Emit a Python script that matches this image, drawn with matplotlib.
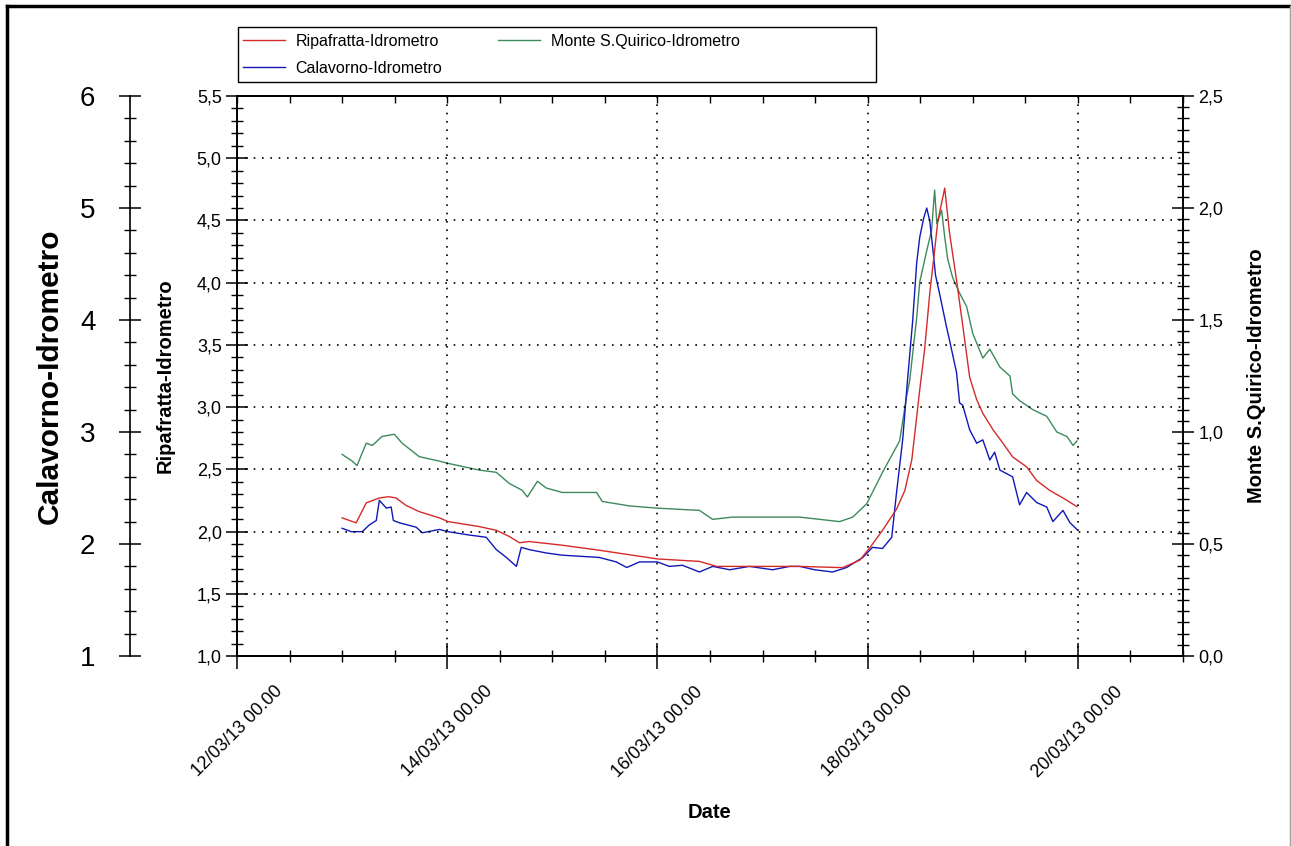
import numpy as np
import pandas as pd
import matplotlib as mpl
import matplotlib.pyplot as plt
import matplotlib.dates as mdates
from matplotlib.ticker import MultipleLocator, FixedLocator, FuncFormatter
from matplotlib.lines import Line2D
from matplotlib.patches import Rectangle

mpl.rcParams['font.family'] = ['Liberation Sans', 'DejaVu Sans']

# hours since 13/03/13 00.00
ripa_hours = [0, 3.2, 5.5, 8.5, 10.7, 12.3, 14.6, 17.6, 22.2, 24.2, 31.3, 35.2, 38.2,
              40.5, 42.7, 50.3, 58.7, 66.3, 72.0, 81.6, 85.5, 96.9, 104.5, 114.3,
              118.2, 120.5, 123.4, 126.6, 128.5, 130.1, 131.9, 133.0, 134.2, 135.3,
              136.0, 137.6, 138.7, 140.3, 141.7, 143.3, 144.9, 146.3, 148.6, 150.9,
              153.1, 156.3, 158.6, 161.6, 164.6, 167.8]
ripa_level = [2.11, 2.07, 2.23, 2.27, 2.28, 2.27, 2.21, 2.16, 2.11, 2.08, 2.04, 2.01, 1.96,
              1.91, 1.92, 1.89, 1.85, 1.81, 1.78, 1.76, 1.72, 1.72, 1.72, 1.71,
              1.77, 1.87, 2.01, 2.18, 2.33, 2.58, 3.14, 3.46, 3.92, 4.26,
              4.49, 4.76, 4.40, 4.02, 3.66, 3.24, 3.06, 2.95, 2.82, 2.71,
              2.60, 2.52, 2.41, 2.33, 2.27, 2.20]

cala_hours = [0, 2.1, 4.6, 6.2, 7.8, 8.5, 10.1, 11.2, 11.7, 13.0, 16.9, 18.3, 22.2, 24.2,
              29.0, 32.9, 35.2, 37.5, 39.8, 40.9, 42.7, 46.6, 50.3, 58.7, 62.6, 65.0,
              67.9, 72.0, 74.7, 77.7, 81.6, 84.6, 88.5, 93.0, 98.3, 102.2, 104.5, 107.9,
              112.0, 115.2, 118.9, 121.1, 123.4, 125.5, 126.6, 128.0, 129.1, 130.3,
              131.2, 131.9, 132.8, 133.5, 134.2, 134.9, 135.5, 136.4, 138.0, 138.7,
              140.3, 141.0, 141.7, 143.3, 144.9, 146.3, 147.9, 149.0, 150.2, 153.1,
              154.7, 156.3, 158.6, 160.9, 162.3, 164.6, 166.2, 167.8]
cala_level = [2.14, 2.11, 2.11, 2.17, 2.21, 2.39, 2.32, 2.33, 2.21, 2.19, 2.15, 2.10, 2.13, 2.11,
              2.08, 2.06, 1.95, 1.88, 1.80, 1.97, 1.95, 1.92, 1.90, 1.88, 1.84, 1.79,
              1.84, 1.84, 1.80, 1.81, 1.75, 1.80, 1.77, 1.80, 1.77, 1.80, 1.80, 1.77,
              1.75, 1.79, 1.88, 1.97, 1.96, 2.06, 2.46, 2.93, 3.46, 4.00,
              4.51, 4.74, 4.91, 5.00, 4.88, 4.63, 4.40, 4.24, 3.94, 3.82,
              3.53, 3.26, 3.24, 3.02, 2.90, 2.93, 2.75, 2.82, 2.66, 2.60,
              2.35, 2.46, 2.37, 2.33, 2.20, 2.30, 2.19, 2.13]

monte_hours = [0, 2.3, 3.4, 5.5, 6.9, 9.1, 11.9, 13.7, 17.6, 22.2, 24.2, 31.3, 35.2, 38.2,
               41.1, 42.3, 44.6, 46.6, 50.3, 58.1, 59.4, 65.6, 72.0, 81.6, 84.6, 89.1,
               104.5, 113.6, 116.6, 119.8, 123.4, 127.3, 128.9, 129.6, 131.2, 131.9,
               133.5, 134.6, 135.3, 135.8, 136.9, 137.6, 138.3, 139.4, 141.0, 142.6,
               144.0, 146.3, 147.9, 150.2, 152.5, 153.1, 154.7, 157.7, 160.9, 163.2,
               165.5, 166.9, 167.8]
monte_level = [0.90, 0.87, 0.85, 0.95, 0.94, 0.98, 0.99, 0.95, 0.89, 0.87, 0.86, 0.83, 0.82, 0.77,
               0.74, 0.71, 0.78, 0.75, 0.73, 0.73, 0.69, 0.67, 0.66, 0.65, 0.61, 0.62,
               0.62, 0.60, 0.62, 0.68, 0.82, 0.96, 1.16, 1.23, 1.51, 1.67,
               1.81, 1.90, 2.08, 1.93, 1.99, 1.87, 1.77, 1.69, 1.62, 1.56,
               1.44, 1.33, 1.37, 1.29, 1.25, 1.17, 1.14, 1.10, 1.07, 1.00,
               0.98, 0.94, 0.96]

start = pd.Timestamp('2013-03-13')
def to_time(hours):
    return start + pd.to_timedelta(np.array(hours), unit='h')

major_days = pd.date_range('2013-03-12', '2013-03-20', freq='2D')
minor_days = pd.date_range('2013-03-12', '2013-03-21', freq='12h')

red = '#d42a2a'
blue = '#1018b8'
green = '#3d8a5c'

fig = plt.figure(figsize=(12.91, 8.46), dpi=100)
ax = fig.add_axes([0.1836, 0.2246, 0.7327, 0.6619])
ax_m = ax.twinx()
ax_c = ax.twinx()

ax.set_zorder(3)
ax.patch.set_visible(False)
ax_c.set_zorder(2)
ax_m.set_zorder(1)

ax_m.plot(to_time(monte_hours), monte_level, color=green, lw=1.0)
ax_c.plot(to_time(cala_hours), cala_level, color=blue, lw=1.0)
ax.plot(to_time(ripa_hours), ripa_level, color=red, lw=1.0)

ax.set_xlim(pd.Timestamp('2013-03-12'), pd.Timestamp('2013-03-21'))
ax.set_ylim(1.0, 5.5)
ax_m.set_ylim(0.0, 2.5)
ax_c.set_ylim(1, 6)

comma = FuncFormatter(lambda v, p: f'{v:.1f}'.replace('.', ','))

# x axis
ax.xaxis.set_major_locator(FixedLocator(mdates.date2num(major_days)))
ax.xaxis.set_minor_locator(FixedLocator(mdates.date2num(minor_days)))
ax.xaxis.set_major_formatter(mdates.DateFormatter('%d/%m/%y %H.%M'))
ax.tick_params(axis='x', which='major', direction='inout', length=19, width=1.1,
               labelsize=13, pad=10)
ax.tick_params(axis='x', which='minor', direction='inout', length=9, width=1.0)
for lab in ax.get_xticklabels():
    lab.set_rotation(45)
    lab.set_ha('center')
    lab.set_va('top')
ax.set_xlabel('Date', fontsize=14.5, fontweight='bold')
ax.xaxis.set_label_coords(0.5, -0.262)

sec = ax.secondary_xaxis('top')
sec.xaxis.set_major_locator(FixedLocator(mdates.date2num(major_days)))
sec.xaxis.set_minor_locator(FixedLocator(mdates.date2num(minor_days)))
sec.tick_params(which='both', direction='in', length=5, width=1.0, labeltop=False)
sec.spines['top'].set_linewidth(1.2)

# Ripafratta axis
ax.yaxis.set_major_locator(MultipleLocator(0.5))
ax.yaxis.set_minor_locator(MultipleLocator(0.1))
ax.yaxis.set_major_formatter(comma)
ax.tick_params(axis='y', which='major', direction='inout', length=16, width=1.1,
               labelsize=13, pad=3)
ax.tick_params(axis='y', which='minor', direction='inout', length=8, width=1.0)
ax.set_ylabel('Ripafratta-Idrometro', fontsize=14.5, fontweight='bold')
ax.yaxis.set_label_coords(-0.0655, 0.5)
ax.grid(True, which='major', color='black', linestyle=(0, (1, 4)), linewidth=1.2)

# Monte S.Quirico axis
ax_m.yaxis.set_major_locator(MultipleLocator(0.5))
ax_m.yaxis.set_minor_locator(MultipleLocator(0.05))
ax_m.yaxis.set_major_formatter(comma)
ax_m.tick_params(axis='y', which='major', direction='inout', length=16, width=1.1,
                 labelsize=13, pad=3)
ax_m.tick_params(axis='y', which='minor', direction='inout', length=8, width=1.0)
ax_m.set_ylabel('Monte S.Quirico-Idrometro', fontsize=14.5, fontweight='bold')
ax_m.yaxis.set_label_coords(1.0677, 0.5)

# Calavorno axis, offset to the left
ax_c.spines['left'].set_position(('axes', -0.113))
ax_c.spines['left'].set_visible(True)
ax_c.spines['right'].set_visible(False)
ax_c.yaxis.set_ticks_position('left')
ax_c.yaxis.set_label_position('left')
ax_c.yaxis.set_major_locator(MultipleLocator(1))
ax_c.yaxis.set_minor_locator(MultipleLocator(0.2))
ax_c.yaxis.set_major_formatter(FuncFormatter(lambda v, p: f'{v:.0f}'))
ax_c.tick_params(axis='y', which='major', direction='inout', length=16, width=1.1,
                 labelsize=20, pad=17)
ax_c.tick_params(axis='y', which='minor', direction='inout', length=8, width=1.0)
ax_c.set_ylabel('Calavorno-Idrometro', fontsize=21.5, fontweight='bold')
ax_c.yaxis.set_label_coords(-0.183, 0.5)

for a in (ax, ax_m, ax_c):
    for s in a.spines.values():
        s.set_linewidth(1.2)

# legend with square frame
handles = [Line2D([], [], color=red, lw=1.0), Line2D([], [], color=blue, lw=1.0),
           Line2D([], [], color=green, lw=1.0)]
labels = ['Ripafratta-Idrometro', 'Calavorno-Idrometro', 'Monte S.Quirico-Idrometro']
fig.legend(handles, labels, loc='upper left', bbox_to_anchor=(243 / 1291, 1 - 34 / 846),
           ncol=2, frameon=False, fontsize=11.5, handlelength=2.6, handletextpad=0.7,
           columnspacing=3.5, labelspacing=0.75, borderpad=0, borderaxespad=0)
fig.add_artist(Rectangle((238 / 1291, 1 - 82 / 846), (876 - 238) / 1291, 55 / 846,
                         transform=fig.transFigure, fill=False, edgecolor='black', lw=1.0))

# outer border
fig.add_artist(Line2D([7 / 1291, 7 / 1291], [0, 1 - 6 / 846], transform=fig.transFigure,
                      color='black', lw=2.5))
fig.add_artist(Line2D([7 / 1291, 1], [1 - 6 / 846, 1 - 6 / 846], transform=fig.transFigure,
                      color='black', lw=2.5))
fig.add_artist(Line2D([1290 / 1291, 1290 / 1291], [0, 1 - 6 / 846], transform=fig.transFigure,
                      color='#a0a0a0', lw=1.0))

fig.savefig('out.png', dpi=100)
